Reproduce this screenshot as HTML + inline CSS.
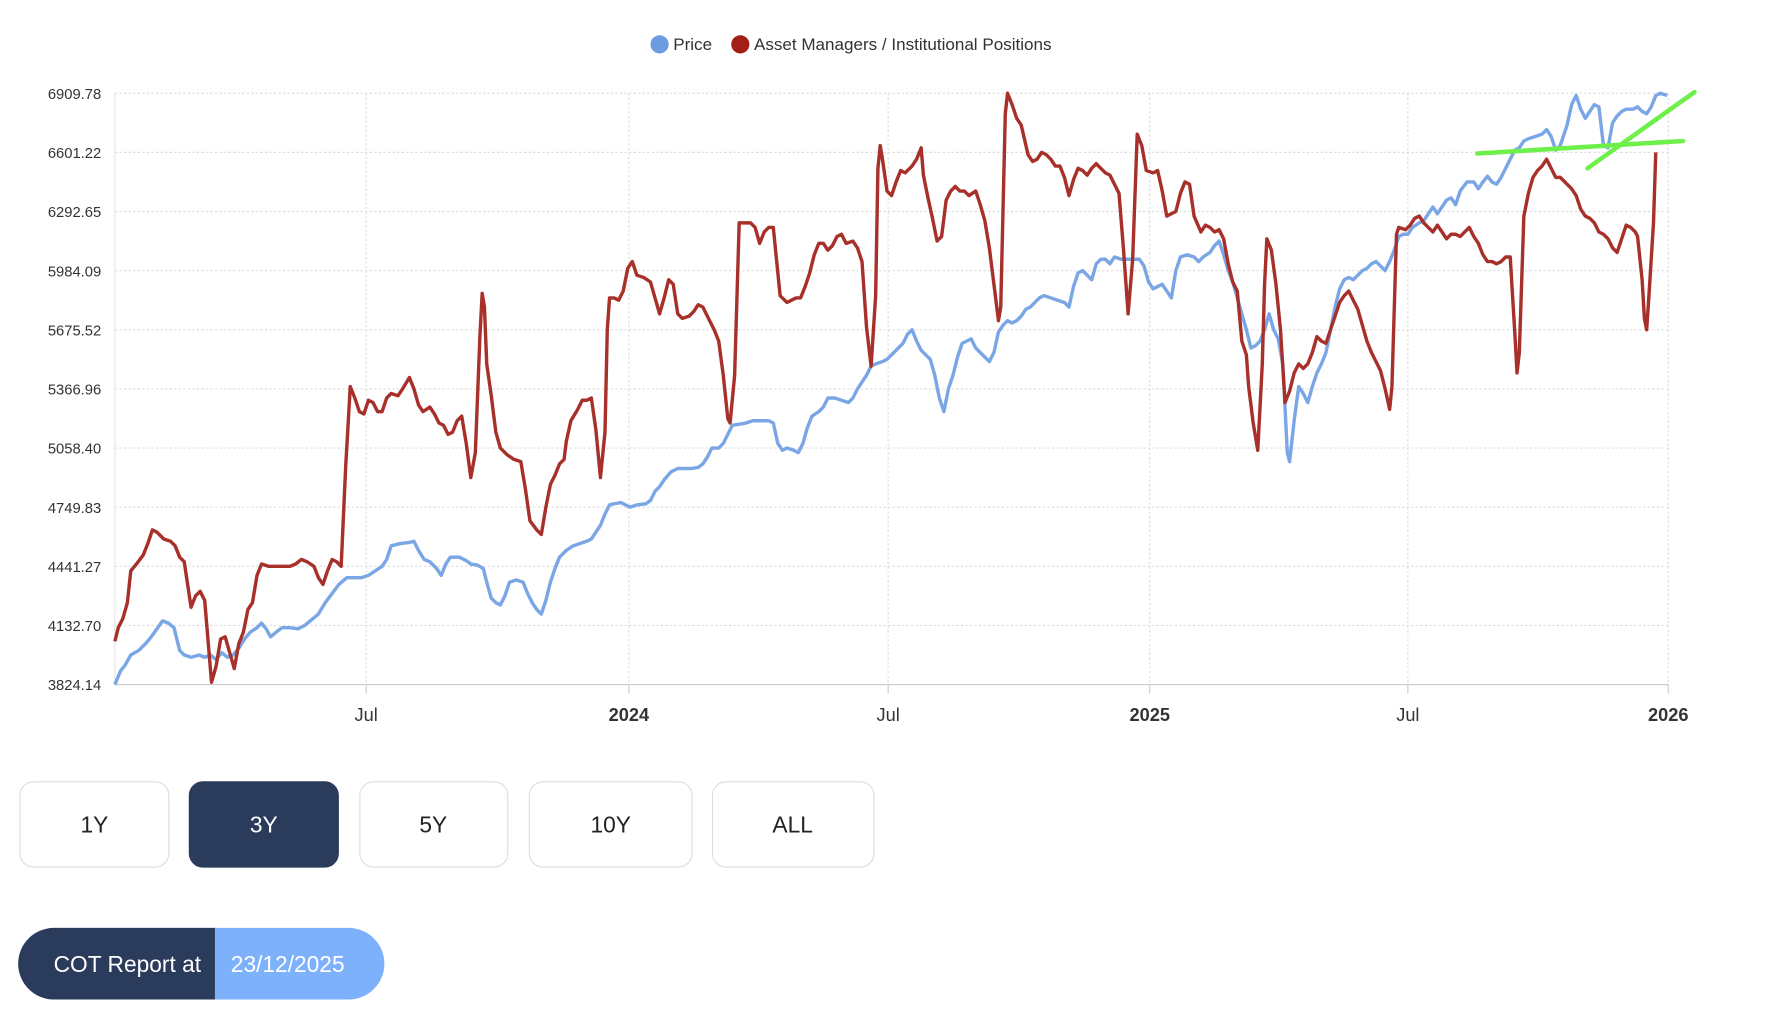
<!DOCTYPE html>
<html><head><meta charset="utf-8"><style>
html,body{margin:0;padding:0;background:#fff;}
svg{display:block;font-family:"Liberation Sans",Arial,sans-serif;}
</style></head><body>
<svg width="1782" height="1020" viewBox="0 0 1567 897" preserveAspectRatio="none" xmlns="http://www.w3.org/2000/svg">
<rect width="1567" height="897" fill="#fff"/>
<!-- legend -->
<circle cx="580" cy="39" r="8" fill="#6b9be0"/>
<text x="592" y="44" font-size="15" fill="#333">Price</text>
<circle cx="651" cy="39" r="8" fill="#a11f16"/>
<text x="663" y="44" font-size="15" fill="#333">Asset Managers / Institutional Positions</text>
<!-- grid -->
<g stroke="#dcdcdc" stroke-width="1" stroke-dasharray="2,2">
<line x1="101" x2="1467" y1="82" y2="82"/><line x1="101" x2="1467" y1="134" y2="134"/>
<line x1="101" x2="1467" y1="186" y2="186"/><line x1="101" x2="1467" y1="238" y2="238"/>
<line x1="101" x2="1467" y1="290" y2="290"/><line x1="101" x2="1467" y1="342" y2="342"/>
<line x1="101" x2="1467" y1="394" y2="394"/><line x1="101" x2="1467" y1="446" y2="446"/>
<line x1="101" x2="1467" y1="498" y2="498"/><line x1="101" x2="1467" y1="550" y2="550"/>
<line x1="322" x2="322" y1="82" y2="602"/><line x1="553" x2="553" y1="82" y2="602"/>
<line x1="781" x2="781" y1="82" y2="602"/><line x1="1011" x2="1011" y1="82" y2="602"/>
<line x1="1238" x2="1238" y1="82" y2="602"/><line x1="1467" x2="1467" y1="82" y2="602"/>
</g>
<line x1="101" x2="1467" y1="602" y2="602" stroke="#ccc"/>
<line x1="101" x2="101" y1="82" y2="602" stroke="#e5e5e5"/>
<g stroke="#ccc"><line x1="322" x2="322" y1="602" y2="610"/><line x1="553" x2="553" y1="602" y2="610"/><line x1="781" x2="781" y1="602" y2="610"/><line x1="1011" x2="1011" y1="602" y2="610"/><line x1="1238" x2="1238" y1="602" y2="610"/><line x1="1467" x2="1467" y1="602" y2="610"/></g>
<g font-size="13" fill="#333" text-anchor="end">
<text x="89" y="87">6909.78</text><text x="89" y="139">6601.22</text><text x="89" y="191">6292.65</text>
<text x="89" y="243">5984.09</text><text x="89" y="295">5675.52</text><text x="89" y="347">5366.96</text>
<text x="89" y="399">5058.40</text><text x="89" y="451">4749.83</text><text x="89" y="503">4441.27</text>
<text x="89" y="555">4132.70</text><text x="89" y="607">3824.14</text>
</g>
<g font-size="16" fill="#333" text-anchor="middle">
<text x="322" y="634">Jul</text><text x="553" y="634" font-weight="bold">2024</text>
<text x="781" y="634">Jul</text><text x="1011" y="634" font-weight="bold">2025</text>
<text x="1238" y="634">Jul</text><text x="1467" y="634" font-weight="bold">2026</text>
</g>
<polyline fill="none" stroke="#7aa6e6" stroke-width="3" stroke-linejoin="round" points="101,602 106,590 110,585 115,576 122,572 128,566 133,560 138,553 143,546 148,548 153,552 158,572 162,576 168,578 175,576 180,578 185,576 190,580 195,574 200,578 205,576 210,570 215,562 220,556 226,552 230,548 234,553 238,560 244,555 248,552 255,552 262,553 268,550 274,545 280,540 286,530 292,522 298,514 305,508 312,508 318,508 324,506 330,502 336,498 340,492 344,480 352,478 360,477 364,476 368,484 373,492 378,494 384,500 388,506 392,496 396,490 404,490 410,493 414,496 420,497 425,500 428,512 432,526 436,530 440,532 444,524 448,512 454,510 460,512 464,522 468,530 472,536 476,540 480,528 484,512 488,500 492,490 498,484 504,480 510,478 516,476 520,474 524,468 528,462 532,452 536,444 540,443 546,442 550,444 554,446 560,444 568,443 572,440 576,432 580,428 584,422 590,415 596,412 602,412 608,412 614,411 618,408 622,402 626,394 632,394 636,390 640,382 644,374 650,373 656,372 662,370 670,370 676,370 680,372 684,390 688,396 692,394 698,396 702,398 706,390 710,376 714,366 720,362 724,358 728,350 734,350 740,352 746,354 750,350 754,342 758,336 762,330 766,322 770,320 776,318 780,316 786,310 790,306 794,302 798,294 802,290 806,300 810,308 814,312 818,316 822,330 826,350 830,362 834,342 838,330 842,314 846,302 850,300 854,298 858,306 862,310 866,314 870,318 874,310 878,292 882,286 886,282 890,284 894,282 898,278 902,272 906,270 910,266 914,262 918,260 924,262 930,264 936,266 940,270 944,252 948,240 952,238 956,242 960,246 964,232 968,228 972,228 976,232 980,226 986,228 992,228 998,228 1002,228 1006,234 1010,248 1014,254 1018,252 1022,250 1026,256 1030,262 1034,238 1038,226 1044,224 1050,226 1054,230 1058,226 1064,222 1068,216 1072,212 1076,224 1080,238 1084,248 1088,262 1092,276 1096,290 1100,306 1104,304 1108,300 1112,290 1116,276 1120,290 1124,298 1128,320 1132,398 1134,406 1138,370 1142,340 1146,346 1150,354 1154,340 1158,328 1162,320 1166,310 1170,290 1174,270 1178,254 1182,246 1186,244 1190,246 1194,242 1198,238 1202,236 1206,232 1210,230 1214,234 1218,238 1222,230 1226,220 1230,208 1234,206 1238,206 1242,200 1248,196 1252,194 1256,188 1260,182 1264,188 1268,182 1272,176 1276,174 1280,180 1284,168 1290,160 1296,160 1300,166 1304,160 1308,155 1312,160 1316,162 1320,156 1324,148 1328,140 1332,132 1336,130 1340,124 1344,122 1350,120 1356,118 1360,114 1364,120 1368,132 1372,128 1378,110 1382,92 1386,84 1390,96 1394,104 1398,98 1402,92 1406,94 1410,128 1414,130 1418,108 1422,102 1426,98 1430,96 1436,96 1440,94 1444,98 1448,100 1452,94 1456,84 1460,82 1466,84"/>
<polyline fill="none" stroke="#a8302a" stroke-width="3" stroke-linejoin="round" points="101,564 104,552 108,544 112,530 115,502 120,496 126,488 130,478 134,466 138,468 144,474 150,476 154,480 158,490 162,494 165,514 168,534 172,524 176,520 180,528 182,552 186,600 190,586 194,562 198,560 202,574 206,588 210,566 214,556 218,536 222,530 226,506 230,496 236,498 242,498 248,498 255,498 260,496 265,492 270,494 276,498 280,508 284,514 288,502 292,492 296,494 300,498 304,410 308,340 312,350 316,362 320,364 324,352 328,354 332,362 336,362 340,350 344,346 350,348 354,342 360,332 364,342 368,356 372,362 378,358 382,364 386,372 390,374 394,382 398,380 402,370 406,366 410,390 414,420 418,398 422,296 424,258 426,270 428,320 432,348 436,380 440,394 446,400 452,404 458,406 462,430 466,458 472,466 476,470 480,446 484,426 488,418 492,408 496,404 498,388 502,370 508,360 512,352 516,352 520,350 524,378 528,420 532,380 534,290 536,262 540,262 544,264 548,256 552,236 556,230 560,242 566,244 572,248 576,262 580,276 584,262 588,246 592,250 596,276 600,280 606,278 610,274 614,268 618,270 622,278 628,290 632,300 636,330 640,368 642,372 646,330 650,196 654,196 660,196 664,200 668,214 672,204 676,200 680,200 682,220 686,260 692,266 696,264 700,262 704,262 708,252 712,240 716,224 720,214 724,214 728,220 732,216 736,208 740,206 744,214 750,212 754,218 758,230 762,288 766,322 770,260 772,148 774,128 776,140 780,168 784,172 788,160 792,150 796,152 802,146 806,140 810,130 812,154 816,174 820,192 824,212 828,208 832,176 836,168 840,164 844,168 848,168 852,172 858,168 862,180 866,194 870,218 874,250 878,282 880,270 884,100 886,82 890,92 894,104 898,110 904,136 908,142 912,140 916,134 920,136 924,140 928,146 932,146 936,156 940,172 944,158 948,148 952,150 956,154 960,148 964,144 968,148 972,152 976,154 980,162 984,170 988,220 992,276 996,228 1000,118 1004,128 1008,150 1014,152 1018,150 1022,168 1026,190 1030,188 1034,186 1038,170 1042,160 1046,162 1050,190 1056,204 1060,198 1064,200 1068,204 1072,202 1076,210 1080,232 1084,248 1088,256 1092,300 1096,312 1098,340 1102,372 1106,396 1110,320 1112,250 1114,210 1118,220 1122,250 1126,290 1130,354 1134,344 1138,328 1142,320 1146,324 1150,320 1154,310 1158,296 1162,300 1166,302 1170,290 1174,278 1178,266 1182,260 1186,256 1190,264 1194,272 1198,286 1202,300 1206,310 1210,318 1214,326 1218,342 1222,360 1224,340 1228,206 1230,200 1236,202 1240,198 1244,192 1248,190 1252,196 1256,200 1260,204 1264,198 1268,204 1272,210 1276,206 1280,206 1284,208 1288,204 1292,200 1296,208 1300,214 1304,224 1308,230 1312,230 1316,232 1320,230 1324,226 1328,226 1332,292 1334,328 1336,310 1340,190 1344,170 1348,156 1352,150 1356,146 1360,140 1364,148 1368,156 1372,156 1378,162 1382,166 1386,172 1390,184 1394,190 1398,192 1402,196 1406,204 1410,206 1414,210 1418,218 1422,222 1426,210 1430,198 1434,200 1438,204 1440,208 1444,246 1446,280 1448,290 1450,260 1454,196 1456,134"/>
<g stroke="#6ef04a" stroke-width="4" stroke-linecap="round">
<line x1="1299" y1="135" x2="1480" y2="124"/>
<line x1="1396" y1="148" x2="1490" y2="81"/>
</g>
<!-- buttons -->
<g font-size="20" text-anchor="middle">
<rect x="17.5" y="687.5" width="131" height="75" rx="12" fill="#fff" stroke="#ddd"/>
<text x="83" y="732" fill="#222">1Y</text>
<rect x="166.5" y="687.5" width="131" height="75" rx="12" fill="#2b3b5b" stroke="#2b3b5b"/>
<text x="232" y="732" fill="#fff">3Y</text>
<rect x="316.5" y="687.5" width="130" height="75" rx="12" fill="#fff" stroke="#ddd"/>
<text x="381" y="732" fill="#222">5Y</text>
<rect x="465.5" y="687.5" width="143" height="75" rx="12" fill="#fff" stroke="#ddd"/>
<text x="537" y="732" fill="#222">10Y</text>
<rect x="626.5" y="687.5" width="142" height="75" rx="12" fill="#fff" stroke="#ddd"/>
<text x="697" y="732" fill="#222">ALL</text>
</g>
<!-- COT pill -->
<rect x="16" y="816" width="322" height="63" rx="31.5" fill="#7eb1fb"/>
<path d="M189,816 H47.5 A31.5,31.5 0 0 0 47.5,879 H189 Z" fill="#2b3b5b"/>
<text x="112" y="855" font-size="20" fill="#fff" text-anchor="middle">COT Report at</text>
<text x="253" y="855" font-size="20" fill="#fff" text-anchor="middle">23/12/2025</text>
</svg>
</body></html>
